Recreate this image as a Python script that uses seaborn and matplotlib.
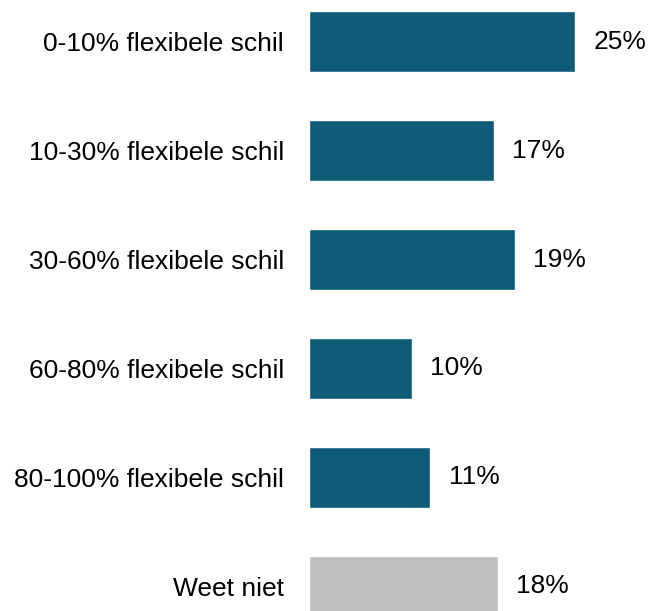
import pandas as pd
import matplotlib.pyplot as plt
import seaborn as sns

categories = [
    "0-10% flexibele schil",
    "10-30% flexibele schil",
    "30-60% flexibele schil",
    "60-80% flexibele schil",
    "80-100% flexibele schil",
    "Weet niet",
]
# labels show the rounded values
values = [25.0, 17.4, 19.3, 9.7, 11.4, 17.7]
value_labels = ["25%", "17%", "19%", "10%", "11%", "18%"]

df = pd.DataFrame({"categorie": categories, "percentage": values})

sns.set_style("white")
plt.rcParams["font.family"] = ["Liberation Sans", "DejaVu Sans"]

teal = "#0D5B76"
grey = "#BFBFBF"
palette = {c: (grey if c == "Weet niet" else teal) for c in categories}

fig = plt.figure(figsize=(6.5, 6.11), dpi=100)
ax = fig.add_axes([309 / 650, 0, 341 / 650, 1])

sns.barplot(
    data=df,
    x="percentage",
    y="categorie",
    hue="categorie",
    palette=palette,
    saturation=1,
    width=0.56,
    legend=False,
    ax=ax,
)

for container, lab in zip(ax.containers, value_labels):
    ax.bar_label(container, labels=[lab], padding=13, fontsize=19, color="black")

ax.set_xlim(0, 32)
ax.set_ylim(5.225, -0.381)
ax.set_xlabel("")
ax.set_ylabel("")
ax.set_xticks([])
ax.tick_params(axis="y", length=0, pad=18, labelsize=19, labelcolor="black")
sns.despine(ax=ax, left=True, bottom=True)

fig.savefig("out.png", dpi=100)
